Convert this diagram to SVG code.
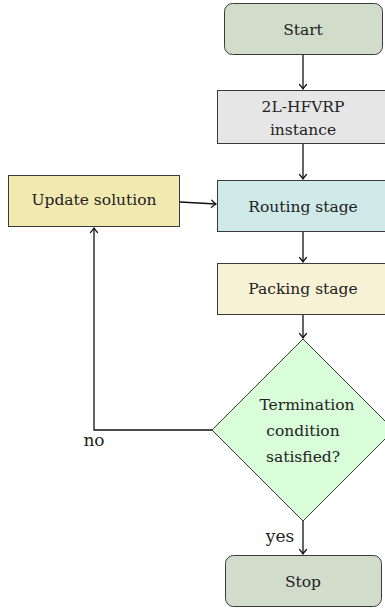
<svg xmlns="http://www.w3.org/2000/svg" width="385" height="610" viewBox="0 0 385 610">
<style>
  .box{stroke:#3a3a3a;stroke-width:1}
  .t{font-family:"DejaVu Serif",serif;font-size:15.5px;fill:#222;text-anchor:middle}
  .lbl{font-family:"DejaVu Serif",serif;font-size:17px;fill:#222;text-anchor:middle}
  .edge{fill:none;stroke:#111;stroke-width:1.3}
</style>
<defs>
  <marker id="arr" viewBox="-6 -5 8 10" markerWidth="8" markerHeight="10" refX="0" refY="0" orient="auto" markerUnits="userSpaceOnUse">
    <path d="M-4.5,-3.5 Q-1.5,-0.8 0,0 Q-1.5,0.8 -4.5,3.5" fill="none" stroke="#111" stroke-width="1.2" stroke-linecap="round"/>
  </marker>
</defs>
<g id="connectors">
  <path class="edge" d="M303,55 L303,89" marker-end="url(#arr)"/>
  <path class="edge" d="M303,144 L303,179" marker-end="url(#arr)"/>
  <path class="edge" d="M303,232 L303,262" marker-end="url(#arr)"/>
  <path class="edge" d="M303,315 L303,338" marker-end="url(#arr)"/>
  <path class="edge" d="M303,521 L303,554" marker-end="url(#arr)"/>
  <path class="edge" d="M180,202 L216,204" marker-end="url(#arr)"/>
  <path class="edge" d="M212,430 L94,430 L94,228" marker-end="url(#arr)"/>
  <text class="lbl" x="94" y="446">no</text>
  <text class="lbl" x="280" y="542">yes</text>
</g>
<g id="start">
  <rect class="box" x="224.5" y="3.5" width="158" height="51" rx="8" fill="#d2dccb"/>
  <text class="t" x="303" y="35">Start</text>
</g>
<g id="instance">
  <rect class="box" x="217.5" y="90.5" width="172" height="53" fill="#e6e6e6"/>
  <text class="t" x="303" y="112">2L-HFVRP</text>
  <text class="t" x="303" y="135">instance</text>
</g>
<g id="routing">
  <rect class="box" x="217.5" y="180.5" width="172" height="51" fill="#cfe8e8"/>
  <text class="t" x="303" y="212">Routing stage</text>
</g>
<g id="packing">
  <rect class="box" x="217.5" y="263.5" width="172" height="51" fill="#f7f1d6"/>
  <text class="t" x="303" y="294">Packing stage</text>
</g>
<g id="update">
  <rect class="box" x="8.5" y="175.5" width="171" height="51" fill="#f2e9b1"/>
  <text class="t" x="94" y="205">Update solution</text>
</g>
<g id="decision">
  <polygon class="box" points="303,339 394,430 303,521 212,430" fill="#d9fcd9"/>
  <text class="t" x="307" y="410">Termination</text>
  <text class="t" x="303" y="436">condition</text>
  <text class="t" x="303" y="462">satisfied?</text>
</g>
<g id="stop">
  <rect class="box" x="225.5" y="555.5" width="156" height="51" rx="8" fill="#d2dccb"/>
  <text class="t" x="303" y="587">Stop</text>
</g>
</svg>
